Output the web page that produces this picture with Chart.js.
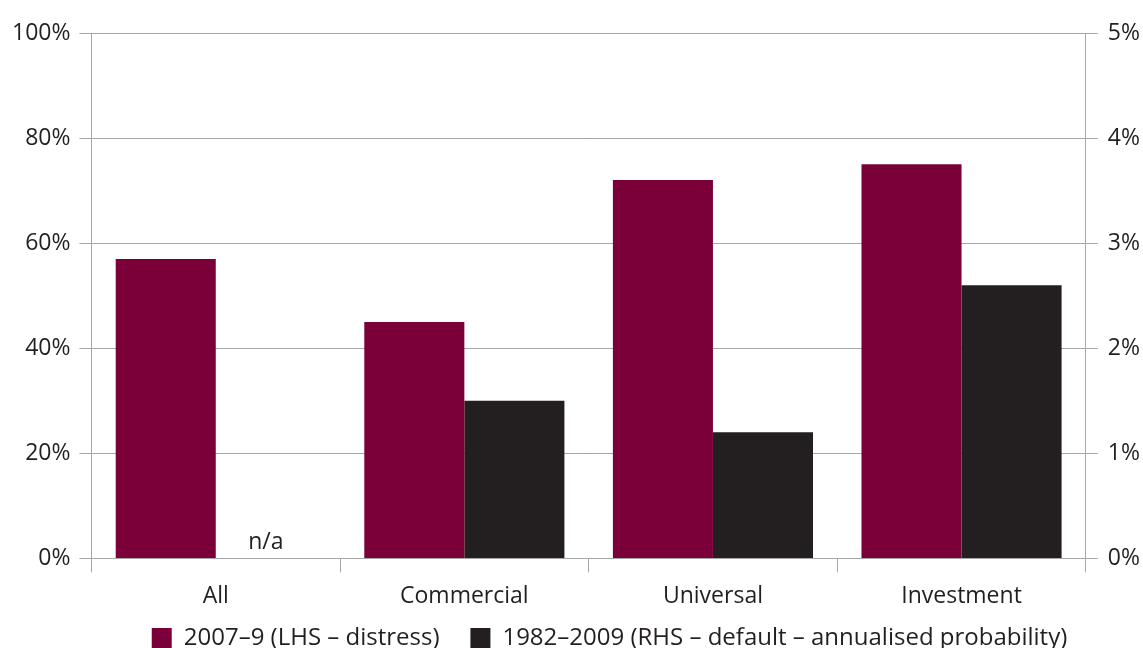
<!DOCTYPE html>
<html>
<head>
<meta charset="utf-8">
<script src="https://cdn.jsdelivr.net/npm/chart.js@4"></script>
<style>
  html, body { margin: 0; padding: 0; background: #fff; }
  #wrap { width: 1143px; height: 648px; }
</style>
</head>
<body>
<div id="wrap"><canvas id="c"></canvas></div>
<script>
const categories = ["All", "Commercial", "Universal", "Investment"];
const distress = [57, 45, 72, 75];          // LHS, %
const defaultProb = [null, 1.5, 1.2, 2.6];  // RHS, %
const leftTicks = [0, 20, 40, 60, 80, 100];
const rightTicks = [0, 1, 2, 3, 4, 5];

const ink = "#231f20";
const gridColor = "#a7a7a9";
const fontFamily = "'Open Sans'";
const fontSize = 23;

// writes "n/a" where a missing value would sit
const naLabel = {
  id: "naLabel",
  afterDatasetsDraw(chart) {
    const ds = chart.data.datasets[1];
    const meta0 = chart.getDatasetMeta(0);
    const ctx = chart.ctx;
    ds.data.forEach((v, i) => {
      if (v !== null) return;
      const bar = meta0.data[i];
      const x = bar.x + bar.width;
      const y = chart.scales.y.getPixelForValue(0) - 16;
      ctx.save();
      ctx.fillStyle = ink;
      ctx.font = fontSize + "px " + fontFamily;
      ctx.textAlign = "center";
      ctx.textBaseline = "middle";
      ctx.fillText("n/a", x, y);
      ctx.restore();
    });
  }
};

// nudge the legend a little right, like the original
const legendShift = {
  id: "legendShift",
  afterLayout(chart) {
    const lg = chart.legend;
    if (!lg) return;
    lg.left += 33;
    lg.right += 33;
  }
};

new Chart(document.getElementById("c"), {
  type: "bar",
  data: {
    labels: categories,
    datasets: [
      {
        label: "2007–9 (LHS – distress)",
        data: distress,
        backgroundColor: "#7b003a",
        yAxisID: "y",
        categoryPercentage: 0.805,
        barPercentage: 1.0
      },
      {
        label: "1982–2009 (RHS – default – annualised probability)",
        data: defaultProb,
        backgroundColor: "#231f20",
        yAxisID: "y2",
        categoryPercentage: 0.805,
        barPercentage: 1.0
      }
    ]
  },
  options: {
    responsive: true,
    maintainAspectRatio: false,
    animation: false,
    layout: { padding: { left: 3, right: -7, top: 33, bottom: -12 } },
    plugins: {
      legend: {
        position: "bottom",
        labels: {
          color: ink,
          font: { family: fontFamily, size: 24 },
          boxWidth: 20,
          boxHeight: 20,
          padding: 6,
          generateLabels(chart) {
            const items = Chart.defaults.plugins.legend.labels.generateLabels(chart);
            // extra gap between the two entries
            items.forEach((it, i) => { if (i < items.length - 1) it.text += "    "; });
            return items;
          }
        }
      },
      tooltip: { enabled: false }
    },
    scales: {
      x: {
        grid: {
          offset: true,
          drawOnChartArea: false,
          color: gridColor,
          tickLength: 14
        },
        border: { color: gridColor },
        ticks: { color: ink, font: { family: fontFamily, size: fontSize }, padding: 10 }
      },
      y: {
        position: "left",
        min: 0,
        max: 100,
        afterBuildTicks: (s) => { s.ticks = leftTicks.map((v) => ({ value: v })); },
        grid: { color: gridColor, tickLength: 12 },
        border: { color: gridColor },
        ticks: {
          color: ink,
          font: { family: fontFamily, size: fontSize },
          padding: 9,
          callback: (v) => v + "%"
        }
      },
      y2: {
        position: "right",
        min: 0,
        max: 5,
        afterBuildTicks: (s) => { s.ticks = rightTicks.map((v) => ({ value: v })); },
        grid: { drawOnChartArea: false, color: gridColor, tickLength: 12 },
        border: { color: gridColor },
        ticks: {
          color: ink,
          font: { family: fontFamily, size: fontSize },
          padding: 10,
          callback: (v) => v + "%"
        }
      }
    }
  },
  plugins: [naLabel, legendShift]
});
</script>
</body>
</html>
